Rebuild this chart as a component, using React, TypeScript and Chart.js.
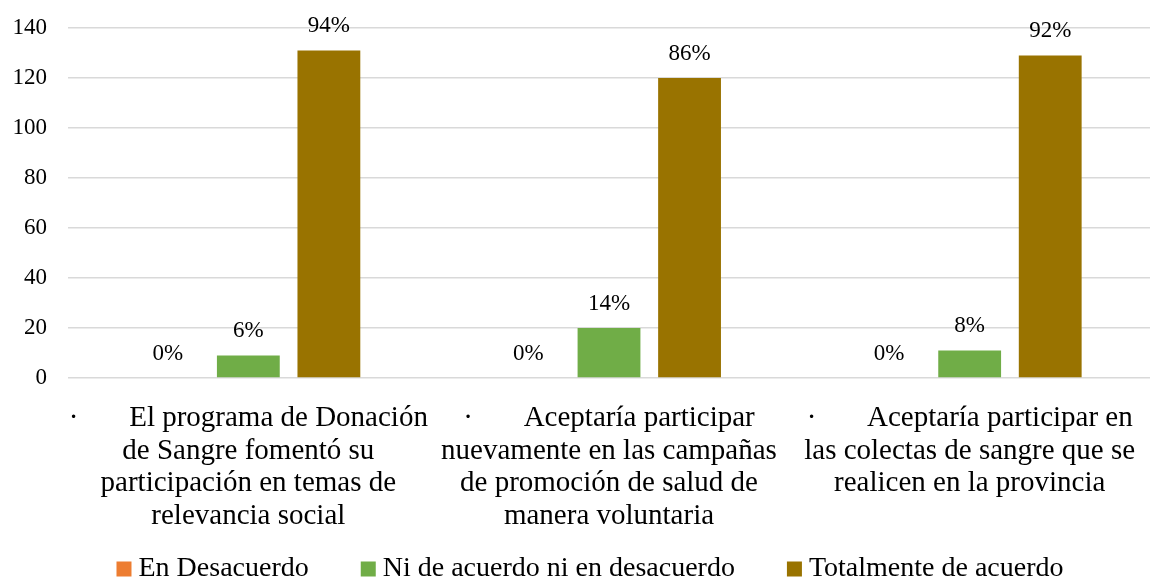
import React, { useEffect, useRef } from "react";
import { Chart, registerables } from "chart.js";

Chart.register(...registerables);

const categories: string[][] = [
  ["·       El programa de Donación", "de Sangre fomentó su", "participación en temas de", "relevancia social"],
  ["·       Aceptaría participar", "nuevamente en las campañas", "de promoción de salud de", "manera voluntaria"],
  ["·       Aceptaría participar en", "las colectas de sangre que se", "realicen en la provincia"],
];
const seriesNames = ["En Desacuerdo", "Ni de acuerdo ni en desacuerdo", "Totalmente de acuerdo"];
const seriesColors = ["#ED7D31", "#70AD47", "#997300"];
const desacuerdo = [0, 0, 0];
const neutral = [9, 20, 11];
const totalmente = [131, 120, 129];
const desacuerdoPct = ["0%", "0%", "0%"];
const neutralPct = ["6%", "14%", "8%"];
const totalmentePct = ["94%", "86%", "92%"];
const yTicks = [0, 20, 40, 60, 80, 100, 120, 140];

const FONT = "'Liberation Serif', 'Times New Roman', serif";

const pctLabels = [desacuerdoPct, neutralPct, totalmentePct];

const labelPlugin = {
  id: "pctLabels",
  afterDatasetsDraw(chart: any) {
    const ctx = chart.ctx;
    ctx.save();
    ctx.font = `23px ${FONT}`;
    ctx.fillStyle = "#000";
    ctx.textAlign = "center";
    ctx.textBaseline = "alphabetic";
    chart.data.datasets.forEach((_: any, di: number) => {
      const meta = chart.getDatasetMeta(di);
      meta.data.forEach((bar: any, i: number) => {
        ctx.fillText(pctLabels[di][i], bar.x, bar.y - 18);
      });
    });
    ctx.restore();
  },
};

const LEGEND_FONT = 28;
const LEGEND_BOX = 15;
const LEGEND_GAP = 7;
const LEGEND_ITEM_GAP = 52;

const legendPlugin = {
  id: "customLegend",
  afterDraw(chart: any) {
    const ctx = chart.ctx;
    ctx.save();
    ctx.font = `${LEGEND_FONT}px ${FONT}`;
    ctx.textBaseline = "middle";
    ctx.textAlign = "left";
    const items = chart.data.datasets.map((d: any) => ({
      text: d.label,
      color: d.backgroundColor,
      w: ctx.measureText(d.label).width,
    }));
    const total =
      items.reduce((s: number, it: any) => s + LEGEND_BOX + LEGEND_GAP + it.w, 0) +
      LEGEND_ITEM_GAP * (items.length - 1);
    let x = (chart.width - total) / 2 + 15;
    const cy = chart.height - 11;
    items.forEach((it: any) => {
      ctx.fillStyle = it.color;
      ctx.fillRect(x, cy - LEGEND_BOX / 2, LEGEND_BOX, LEGEND_BOX);
      x += LEGEND_BOX + LEGEND_GAP;
      ctx.fillStyle = "#000";
      ctx.fillText(it.text, x, cy);
      x += it.w + LEGEND_ITEM_GAP;
    });
    ctx.restore();
  },
};

export default function App() {
  const ref = useRef<HTMLCanvasElement>(null);
  useEffect(() => {
    document.body.style.margin = "0";
    const chart = new Chart(ref.current!, {
      type: "bar",
      data: {
        labels: categories,
        datasets: [
          { label: seriesNames[0], data: desacuerdo, backgroundColor: seriesColors[0] },
          { label: seriesNames[1], data: neutral, backgroundColor: seriesColors[1] },
          { label: seriesNames[2], data: totalmente, backgroundColor: seriesColors[2] },
        ],
      },
      options: {
        animation: false,
        responsive: false,
        maintainAspectRatio: false,
        layout: { padding: { top: 28, left: 12, right: 0, bottom: 31 } },
        datasets: { bar: { barPercentage: 0.78, categoryPercentage: 0.67 } } as any,
        scales: {
          x: {
            grid: { display: false },
            border: { display: false },
            afterFit: (s: any) => {
              s.paddingLeft = 0;
              s.paddingRight = 0;
            },
            ticks: {
              color: "#000",
              font: { family: FONT, size: 29, lineHeight: 1.13 },
              maxRotation: 0,
              autoSkip: false,
              padding: 16,
            },
          },
          y: {
            min: 0,
            max: 140,
            afterBuildTicks: (axis: any) => {
              axis.ticks = yTicks.map((v) => ({ value: v }));
            },
            afterFit: (s: any) => {
              s.width = 56;
              s.paddingTop = 0;
              s.paddingBottom = 0;
            },
            grid: { color: "#d9d9d9", lineWidth: 1.5, drawTicks: false },
            border: { display: false },
            ticks: { color: "#000", font: { family: FONT, size: 23 }, padding: 21 },
          },
        },
        plugins: {
          legend: { display: false },
          tooltip: { enabled: false },
        },
      },
      plugins: [labelPlugin, legendPlugin],
    });
    return () => chart.destroy();
  }, []);
  return (
    <div style={{ width: 1150, height: 580 }}>
      <canvas ref={ref} width={1150} height={580} />
    </div>
  );
}
